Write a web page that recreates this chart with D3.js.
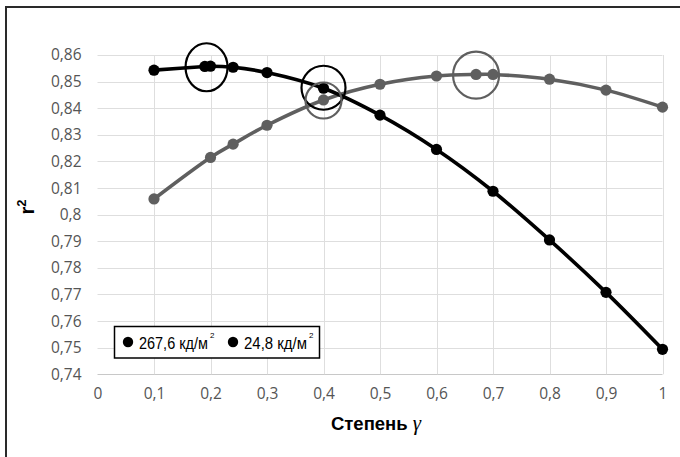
<!DOCTYPE html>
<html><head><meta charset="utf-8">
<script src="https://cdn.jsdelivr.net/npm/d3@7"></script>
<style>
html,body{margin:0;padding:0;background:#fff;}
svg{display:block;}
</style></head>
<body>
<svg id="chart" width="680" height="457"></svg>
<script>
// ---- data ----
const xTicks = [0, 0.1, 0.2, 0.3, 0.4, 0.5, 0.6, 0.7, 0.8, 0.9, 1];
const xTickLabels = ["0", "0,1", "0,2", "0,3", "0,4", "0,5", "0,6", "0,7", "0,8", "0,9", "1"];
const yTicks = [0.74, 0.75, 0.76, 0.77, 0.78, 0.79, 0.80, 0.81, 0.82, 0.83, 0.84, 0.85, 0.86];
const yTickLabels = ["0,74", "0,75", "0,76", "0,77", "0,78", "0,79", "0,8", "0,81", "0,82", "0,83", "0,84", "0,85", "0,86"];

const seriesNames = ["267,6 кд/м", "24,8 кд/м"];
const gammaBright = [0.1, 0.19, 0.2, 0.24, 0.3, 0.4, 0.5, 0.6, 0.7, 0.8, 0.9, 1.0];
const r2Bright = [0.8543, 0.8557, 0.8558, 0.8554, 0.8534, 0.8475, 0.8374, 0.8245, 0.8088, 0.7905, 0.7708, 0.7494];
const gammaDim = [0.1, 0.2, 0.24, 0.3, 0.4, 0.5, 0.6, 0.67, 0.7, 0.8, 0.9, 1.0];
const r2Dim = [0.8059, 0.8215, 0.8265, 0.8336, 0.8431, 0.8490, 0.8521, 0.8527, 0.8527, 0.8509, 0.8468, 0.8404];

// highlighted maxima / crossing (data coordinates) and which series they belong to
const markGamma = [0.193, 0.4, 0.4, 0.67];
const markR2 = [0.8554, 0.8477, 0.8429, 0.8524];
const markSeries = [0, 0, 1, 1];

// ---- layout ----
const svg = d3.select("#chart");
const x = d3.scaleLinear().domain([0, 1]).range([97.5, 662.5]);
const y = d3.scaleLinear().domain([0.74, 0.86]).range([374.3, 55]);
const colors = ["#000000", "#5f5f5f"];
const markRadius = [[21, 24], [22, 22], [18, 18], [23, 23.5]];

// frame (top and left edges only)
svg.append("path").attr("d", "M6,457 L6,7 L680,7")
  .attr("fill", "none").attr("stroke", "#2a2a2a").attr("stroke-width", 2);

// gridlines
const grid = svg.append("g");
grid.selectAll("line.h").data(yTicks).join("line")
  .attr("x1", x(0)).attr("x2", x(1))
  .attr("y1", d => Math.round(y(d)) + 0.5).attr("y2", d => Math.round(y(d)) + 0.5)
  .attr("stroke", d => d === 0.74 ? "#c8c8c8" : "#dedede").attr("stroke-width", 1);
grid.selectAll("line.v").data(xTicks.filter(d => d > 0)).join("line")
  .attr("x1", d => Math.round(x(d)) + 0.5).attr("x2", d => Math.round(x(d)) + 0.5)
  .attr("y1", y(0.86)).attr("y2", y(0.74))
  .attr("stroke", "#dedede").attr("stroke-width", 1);

// axes via d3 axis generators (domain/tick lines hidden, labels only)
const yAxis = d3.axisLeft(y).tickValues(yTicks).tickFormat((d, i) => yTickLabels[i]).tickSize(0).tickPadding(16);
const gy = svg.append("g").attr("transform", `translate(${x(0)},0)`).call(yAxis);
gy.select(".domain").remove();
gy.selectAll("text").attr("font-family", "'Open Sans', 'Noto Sans', sans-serif")
  .attr("font-size", 15.5).attr("fill", "#555");

const xAxis = d3.axisBottom(x).tickValues(xTicks).tickFormat((d, i) => xTickLabels[i]).tickSize(0).tickPadding(14);
const gx = svg.append("g").attr("transform", `translate(0,${y(0.74)})`).call(xAxis);
gx.select(".domain").remove();
gx.selectAll("text").attr("font-family", "'Open Sans', 'Noto Sans', sans-serif")
  .attr("font-size", 15.5).attr("fill", "#555");

// axis titles
const yt = svg.append("text")
  .attr("transform", "translate(34,207) rotate(-90)")
  .attr("text-anchor", "middle")
  .attr("font-family", "'Liberation Sans', Arial, sans-serif")
  .attr("font-weight", "bold").attr("font-size", 20).attr("fill", "#000");
yt.append("tspan").text("r");
yt.append("tspan").attr("font-size", 13).attr("dy", -8).text("2");

const xt = svg.append("text")
  .attr("x", 376).attr("y", 430).attr("text-anchor", "middle")
  .attr("font-family", "'Liberation Sans', Arial, sans-serif")
  .attr("font-weight", "bold").attr("font-size", 18.5).attr("fill", "#000");
xt.append("tspan").text("Степень ");
xt.append("tspan").attr("font-family", "'Liberation Serif', 'DejaVu Serif', serif")
  .attr("font-style", "italic").attr("font-weight", "normal").attr("font-size", 21).text("γ");

// series
const series = [
  { g: gammaDim, v: r2Dim, c: colors[1] },
  { g: gammaBright, v: r2Bright, c: colors[0] }
];
const line = d3.line().x(d => x(d[0])).y(d => y(d[1])).curve(d3.curveCatmullRom.alpha(0.5));
series.forEach(s => {
  const pts = s.g.map((g, i) => [g, s.v[i]]);
  svg.append("path").datum(pts).attr("d", line)
    .attr("fill", "none").attr("stroke", s.c).attr("stroke-width", 3.6);
  svg.append("g").selectAll("circle").data(pts).join("circle")
    .attr("cx", d => x(d[0])).attr("cy", d => y(d[1])).attr("r", 5.6).attr("fill", s.c);
});

// highlight rings
svg.append("g").selectAll("ellipse").data(markGamma.map((g, i) => [g, markR2[i], markSeries[i], i])).join("ellipse")
  .attr("cx", d => x(d[0])).attr("cy", d => y(d[1]))
  .attr("rx", d => markRadius[d[3]][0]).attr("ry", d => markRadius[d[3]][1])
  .attr("fill", "none").attr("stroke", d => d[2] === 0 ? "#000" : "#5f5f5f").attr("stroke-width", 2.2);

// legend
const lg = svg.append("g");
lg.append("rect").attr("x", 114.5).attr("y", 326.5).attr("width", 205).attr("height", 31.5)
  .attr("fill", "#fff").attr("stroke", "#000").attr("stroke-width", 1.5);
const legX = [128, 233];
const legLen = [69, 63];
seriesNames.forEach((name, i) => {
  lg.append("circle").attr("cx", legX[i]).attr("cy", 342).attr("r", 5.2).attr("fill", "#000");
  const t = lg.append("text")
    .attr("font-family", "'Liberation Sans', Arial, sans-serif")
    .attr("font-size", 17).attr("fill", "#000").text(name);
  const natural = t.node().getComputedTextLength();
  const sx = legLen[i] / natural;
  t.attr("transform", `translate(${legX[i] + 11},348.5) scale(${sx},1)`);
  lg.append("text").attr("x", legX[i] + 13 + legLen[i]).attr("y", 338)
    .attr("font-family", "'Liberation Sans', Arial, sans-serif")
    .attr("font-size", 8).attr("fill", "#000").text("2");
});
</script>
</body></html>
